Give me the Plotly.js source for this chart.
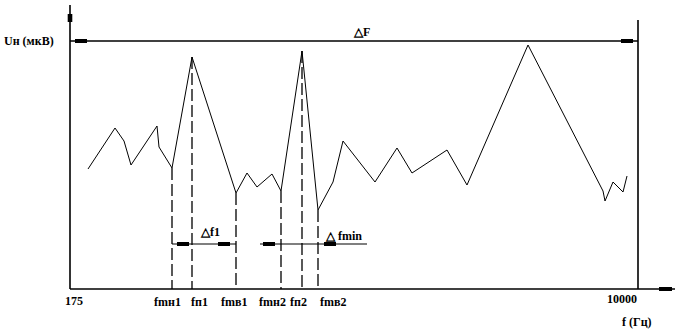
<!DOCTYPE html>
<html><head><meta charset="utf-8">
<script src="https://cdn.plot.ly/plotly-3.0.1.min.js"></script>
<style>html,body{margin:0;padding:0;background:#fff;}#chart{width:681px;height:333px;}</style>
</head><body><div id="chart"></div>
<script>
// Curve (x: position along frequency axis, y: level Uн), arbitrary schematic units
const curveX = [18, 45, 54, 61, 87, 89, 102, 122, 166, 177, 187, 202, 211, 232, 248, 263, 273, 305, 327, 342, 377, 397, 458, 533, 535, 543, 553, 557];
const curveY = [120, 161, 148, 124, 163, 142, 121, 232, 96, 116, 102, 115, 98, 238, 79, 107, 148, 107, 141, 116, 139, 104, 244, 98, 88, 107, 97, 113];

// Marked frequencies (indices into the curve) and their labels
const markerIdx = [6, 7, 8, 12, 13, 14];
const markerLabels = ["fmн1", "fп1", "fmв1", "fmн2", "fп2", "fmв2"];

// Axis tick labels and titles
const tickLabels = ["175", "10000"];
const yTitle = "Uн (мкВ)";
const xTitle = "f (Гц)";
const bandLabels = ["△F", "△f1", "△ fmin"];

const FONT = {family: "Liberation Serif, Times New Roman, serif", size: 12, color: "#000", weight: 700};

const markerX = markerIdx.map(i => curveX[i]);
const markerY = markerIdx.map(i => curveY[i]);

const dashX = [], dashY = [];
markerX.forEach((x, k) => { dashX.push(x, x, null); dashY.push(markerY[k], 0, null); });

const traces = [
  {type: "scatter", mode: "lines", x: curveX, y: curveY, line: {color: "#000", width: 1}, hoverinfo: "skip"},
  {type: "scatter", mode: "lines", x: dashX, y: dashY, line: {color: "#000", width: 1.3, dash: "12px,4px"}, hoverinfo: "skip"}
];

const xEnd = 568;   // right boundary (10000)
const shapes = [];
function ln(x0, y0, x1, y1, w) { shapes.push({type: "line", xref: "x", yref: "y", x0, y0, x1, y1, line: {color: "#000", width: w}}); }
function rc(x0, y0, x1, y1) { shapes.push({type: "rect", xref: "x", yref: "y", x0, y0, x1, y1, fillcolor: "#000", line: {width: 0}}); }

// axes
ln(0, 0, 0, 284, 1.6);
rc(-2.3, 267, 2.3, 275);
ln(0, 0, 605, 0, 1.6);
rc(589, -2, 602, 2);
ln(xEnd, 0, xEnd, 269, 1.6);
// ΔF
ln(0, 248, xEnd, 248, 1.6);
rc(5, 246, 17, 250);
rc(551, 246, 563, 250);
// Δf1
ln(markerX[0], 45, markerX[2], 45, 1.2);
rc(markerX[0] + 5, 43, markerX[0] + 17, 47);
rc(markerX[2] - 18, 43, markerX[2] - 6, 47);
// Δfmin
ln(190, 45, 297, 45, 1.2);
rc(193, 43, 205, 47);
rc(254, 43, 266, 47);

const ann = [];
function tx(text, x, y, opts) { ann.push(Object.assign({text, x, y, xref: "x", yref: "y", showarrow: false, font: FONT}, opts || {})); }
const shifts = [-5, 7, -2, -9, -4, 15];
markerLabels.forEach((t, k) => tx(t, markerX[k], -13, {xshift: shifts[k]}));
tx(tickLabels[0], 4, -12);
tx(tickLabels[1], xEnd, -10, {xanchor: "right", xshift: 1});
tx(xTitle, 567, -33);
tx(yTitle, -41, 248);
tx(bandLabels[0], 291, 257);
tx(bandLabels[1], 140, 57);
tx(bandLabels[2], 273, 53);

Plotly.newPlot("chart", traces, {
  width: 681, height: 333,
  margin: {l: 0, r: 0, t: 0, b: 0},
  paper_bgcolor: "#fff", plot_bgcolor: "#fff",
  showlegend: false,
  xaxis: {range: [-70, 611], visible: false, fixedrange: true},
  yaxis: {range: [-44, 289], visible: false, fixedrange: true},
  shapes, annotations: ann
}, {staticPlot: true});
</script>
</body></html>
